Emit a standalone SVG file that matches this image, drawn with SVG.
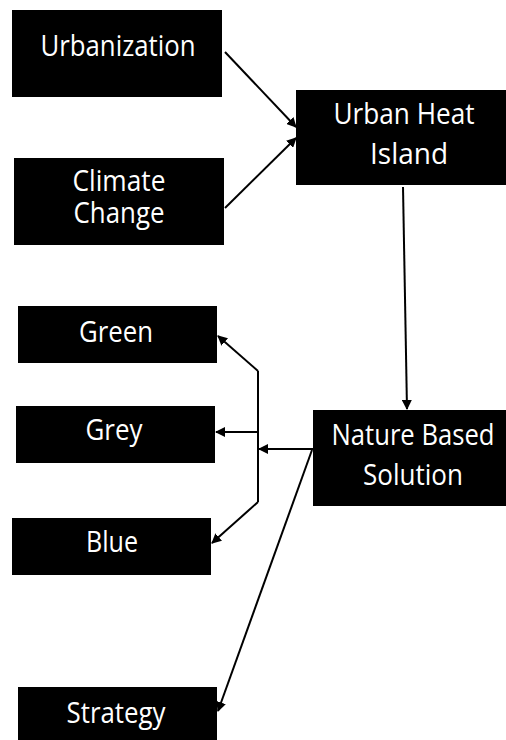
<svg xmlns="http://www.w3.org/2000/svg" width="506" height="740" viewBox="0 0 506 740">
<defs>
<marker id="ah" viewBox="0 0 10 10" refX="9" refY="5" markerWidth="5" markerHeight="5" orient="auto" markerUnits="strokeWidth">
<path d="M0,0 L10,5 L0,10 z" fill="#000"/>
</marker>
<style>
.box{fill:#000}
.t{fill:#fff;font-family:"Open Sans","Liberation Sans",sans-serif;font-size:30px;text-anchor:middle}
.c{stroke:#000;stroke-width:2;fill:none}
.a{marker-end:url(#ah)}
</style>
</defs>
<rect width="506" height="740" fill="#fff"/>
<g id="urbanization"><rect class="box" x="12" y="10" width="210" height="87"/><text class="t" x="118" y="56" textLength="155" lengthAdjust="spacingAndGlyphs">Urbanization</text></g>
<g id="climate"><rect class="box" x="14" y="158" width="210" height="87"/><text class="t" x="119" y="191" textLength="93" lengthAdjust="spacingAndGlyphs">Climate</text><text class="t" x="119" y="223" textLength="91" lengthAdjust="spacingAndGlyphs">Change</text></g>
<g id="uhi"><rect class="box" x="296" y="90" width="210" height="95"/><text class="t" x="404" y="124" textLength="141" lengthAdjust="spacingAndGlyphs">Urban Heat</text><text class="t" x="409" y="164" textLength="78" lengthAdjust="spacingAndGlyphs">Island</text></g>
<g id="nbs"><rect class="box" x="313" y="410" width="193" height="96"/><text class="t" x="413" y="445" textLength="163" lengthAdjust="spacingAndGlyphs">Nature Based</text><text class="t" x="413" y="485" textLength="100" lengthAdjust="spacingAndGlyphs">Solution</text></g>
<g id="green"><rect class="box" x="18" y="306" width="199" height="57"/><text class="t" x="116" y="342" textLength="74" lengthAdjust="spacingAndGlyphs">Green</text></g>
<g id="grey"><rect class="box" x="16" y="406" width="199" height="57"/><text class="t" x="114" y="440" textLength="57" lengthAdjust="spacingAndGlyphs">Grey</text></g>
<g id="blue"><rect class="box" x="12" y="518" width="199" height="57"/><text class="t" x="112" y="552" textLength="52" lengthAdjust="spacingAndGlyphs">Blue</text></g>
<g id="strategy"><rect class="box" x="18" y="687" width="199" height="60"/><text class="t" x="116" y="723" textLength="99" lengthAdjust="spacingAndGlyphs">Strategy</text></g>
<g id="connectors">
<line class="c a" x1="225" y1="52" x2="296" y2="127"/>
<line class="c a" x1="225" y1="208" x2="296" y2="138"/>
<line class="c a" x1="403" y1="187" x2="407" y2="409"/>
<line class="c a" x1="313" y1="449" x2="259" y2="449"/>
<polyline class="c" points="258,371 258,502"/>
<line class="c a" x1="258" y1="371" x2="218" y2="336"/>
<line class="c a" x1="258" y1="432" x2="216" y2="432"/>
<line class="c a" x1="258" y1="502" x2="212" y2="543"/>
<line class="c a" x1="312" y1="450" x2="218" y2="711"/>
</g>
</svg>
